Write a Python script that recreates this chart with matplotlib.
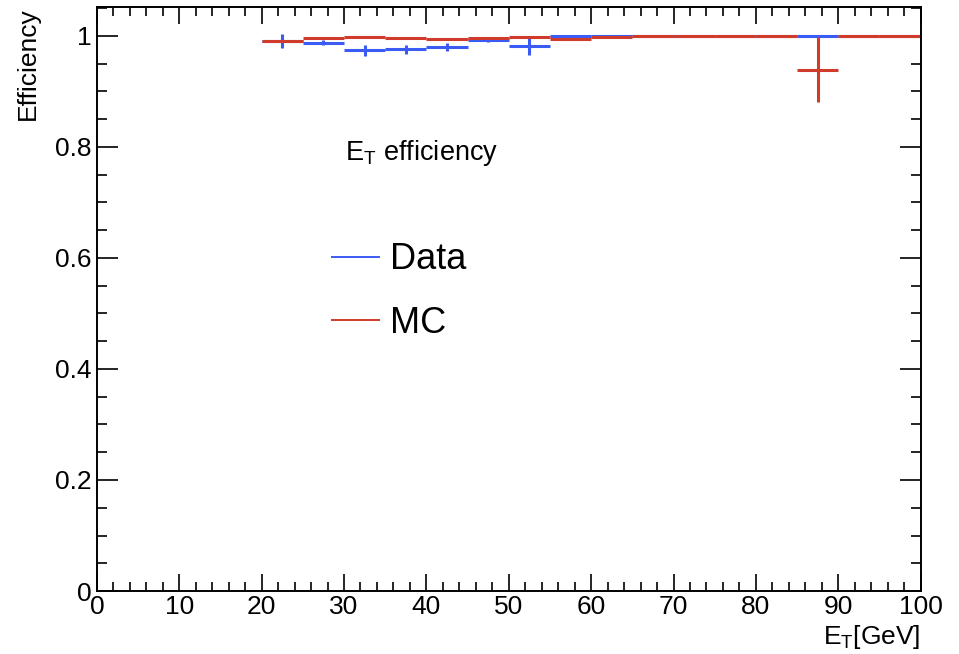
import matplotlib.pyplot as plt
from matplotlib.ticker import MultipleLocator, FuncFormatter

plt.rcParams['font.family'] = ['Liberation Sans', 'DejaVu Sans']
plt.rcParams['mathtext.fontset'] = 'custom'
plt.rcParams['mathtext.rm'] = 'Liberation Sans'

# bin centres (5 GeV wide bins)
bin_centers = [22.5, 27.5, 32.5, 37.5, 42.5, 47.5, 52.5, 57.5,
               62.5, 67.5, 72.5, 77.5, 82.5, 87.5, 92.5, 97.5]
bin_half_width = 2.5

data_eff = [0.991, 0.988, 0.974, 0.976, 0.980, 0.993, 0.982, 1.0,
            1.0, 1.0, 1.0, 1.0, 1.0, 1.0, 1.0, 1.0]
data_err = [0.012, 0.005, 0.010, 0.008, 0.007, 0.004, 0.017, 0.0,
            0.0, 0.0, 0.0, 0.0, 0.0, 0.0, 0.0, 0.0]

mc_eff = [0.991, 0.996, 0.998, 0.997, 0.995, 0.996, 0.998, 0.995,
          0.998, 1.0, 1.0, 1.0, 1.0, 0.939, 1.0, 1.0]
mc_err = [0.002, 0.001, 0.001, 0.001, 0.001, 0.001, 0.001, 0.001,
          0.001, 0.0, 0.0, 0.0, 0.0, 0.059, 0.0, 0.0]

blue = '#3a5cf5'
red = '#d13b2b'

fig = plt.figure(figsize=(9.59, 6.54), dpi=100)
ax = fig.add_axes([0.101, 0.0963, 0.859, 0.893])

ax.errorbar(bin_centers, data_eff, xerr=bin_half_width, yerr=data_err,
            fmt='none', ecolor=blue, elinewidth=2.2, capsize=0)
ax.errorbar(bin_centers, mc_eff, xerr=bin_half_width, yerr=mc_err,
            fmt='none', ecolor=red, elinewidth=2.2, capsize=0)

ax.set_xlim(0, 100)
ax.set_ylim(0, 1.052)

ax.xaxis.set_major_locator(MultipleLocator(10))
ax.xaxis.set_minor_locator(MultipleLocator(2))
ax.yaxis.set_major_locator(MultipleLocator(0.2))
ax.yaxis.set_minor_locator(MultipleLocator(0.05))
ax.yaxis.set_major_formatter(FuncFormatter(lambda v, p: '%g' % round(v, 2)))

ax.tick_params(which='both', direction='in', top=True, right=True,
               labelsize=19, width=1.2)
ax.tick_params(axis='x', which='major', length=12, pad=3)
ax.tick_params(axis='x', which='minor', length=6.5)
ax.tick_params(axis='y', which='major', length=15, pad=3.5)
ax.tick_params(axis='y', which='minor', length=7.5)
for s in ax.spines.values():
    s.set_linewidth(1.4)

ax.set_ylabel('Efficiency', fontsize=19, loc='top')
ax.yaxis.set_label_coords(-0.069, 1.0)
ax.set_xlabel(r'E$_{\rm T}$[GeV]', fontsize=19, loc='right')
ax.xaxis.set_label_coords(1.0, -0.055)

ax.text(0.301, 0.75, r'E$_{\rm T}$ efficiency', transform=ax.transAxes,
        fontsize=19.5, va='center', ha='left')

h_data, = ax.plot([], [], color=blue, lw=1.4)
h_mc, = ax.plot([], [], color=red, lw=1.4)
ax.legend([h_data, h_mc], ['Data', 'MC'], loc='upper left',
          bbox_to_anchor=(0.286, 0.597), frameon=False, fontsize=26,
          borderpad=0, borderaxespad=0, handlelength=1.28,
          handletextpad=0.3, labelspacing=0.78)

fig.savefig('out.png', dpi=100)
